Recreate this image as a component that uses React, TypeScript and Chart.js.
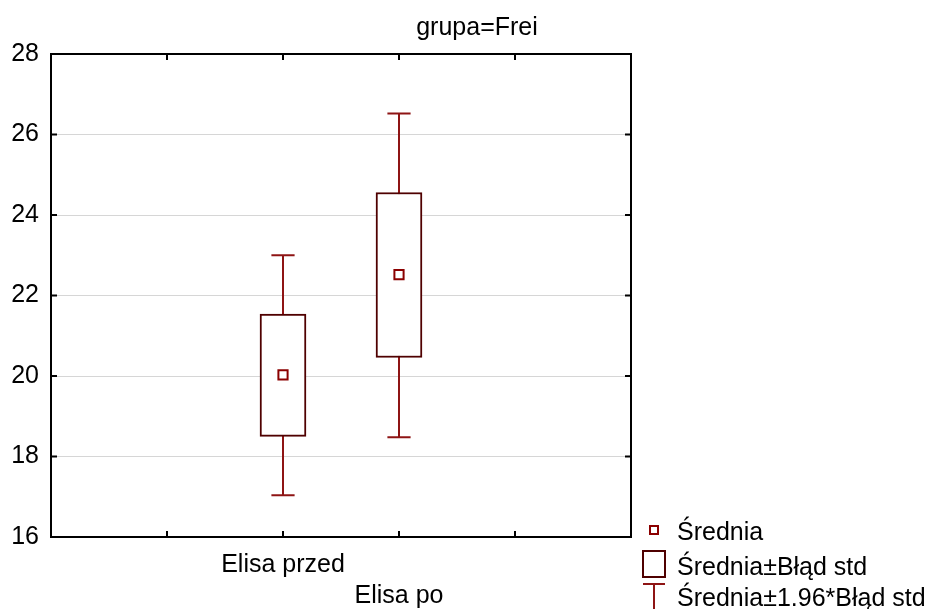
import React, { useEffect, useRef } from "react";
import { Chart, registerables } from "chart.js";

Chart.register(...registerables);

const categories = ["Elisa przed", "Elisa po"];
const xPositions = [2, 3];
const labelRows = [0, 1];
const means = [20.03, 22.52];
const seLow = [18.5, 20.46];
const seHigh = [21.54, 24.56];
const ciLow = [17.04, 18.48];
const ciHigh = [23.0, 26.52];
const yTicks = [16, 18, 20, 22, 24, 26, 28];
const xTickMarks = [1, 2, 3, 4];
const titleText = "grupa=Frei";
const legendLabels = ["Średnia", "Średnia±Błąd std", "Średnia±1.96*Błąd std"];

const FONT = "'Liberation Sans', Arial, sans-serif";
const FS = 25;
const BOX_COLOR = "#4f0000";
const WHISKER_COLOR = "#8e1414";
const MEAN_COLOR = "#8b0000";

export default function App() {
  const ref = useRef<HTMLCanvasElement | null>(null);

  useEffect(() => {
    if (!ref.current) return;

    const whiskerPlugin = {
      id: "whiskers",
      beforeDatasetsDraw(chart: any) {
        const ctx = chart.ctx;
        const xs = chart.scales.x;
        const ys = chart.scales.y;
        const capHalf = xs.getPixelForValue(0.1) - xs.getPixelForValue(0);
        ctx.save();
        ctx.strokeStyle = WHISKER_COLOR;
        ctx.lineWidth = 2;
        xPositions.forEach((xv, i) => {
          const px = Math.round(xs.getPixelForValue(xv));
          const yl = ys.getPixelForValue(ciLow[i]);
          const yh = ys.getPixelForValue(ciHigh[i]);
          ctx.beginPath();
          ctx.moveTo(px, yl);
          ctx.lineTo(px, yh);
          ctx.moveTo(px - capHalf, yl);
          ctx.lineTo(px + capHalf, yl);
          ctx.moveTo(px - capHalf, yh);
          ctx.lineTo(px + capHalf, yh);
          ctx.stroke();
        });
        ctx.restore();
      },
    };

    const framePlugin = {
      id: "frame",
      afterDraw(chart: any) {
        const ctx = chart.ctx;
        const a = chart.chartArea;
        const xs = chart.scales.x;
        const ys = chart.scales.y;
        ctx.save();
        ctx.strokeStyle = "#000";
        ctx.lineWidth = 2;
        ctx.strokeRect(a.left, a.top, a.right - a.left, a.bottom - a.top);
        ctx.beginPath();
        yTicks.forEach((v) => {
          const py = ys.getPixelForValue(v);
          ctx.moveTo(a.left, py);
          ctx.lineTo(a.left + 6, py);
          ctx.moveTo(a.right, py);
          ctx.lineTo(a.right - 6, py);
        });
        xTickMarks.forEach((v) => {
          const px = xs.getPixelForValue(v);
          ctx.moveTo(px, a.bottom);
          ctx.lineTo(px, a.bottom - 6);
          ctx.moveTo(px, a.top);
          ctx.lineTo(px, a.top + 6);
        });
        ctx.stroke();

        // title
        ctx.fillStyle = "#000";
        ctx.font = `${FS}px ${FONT}`;
        ctx.textAlign = "center";
        ctx.textBaseline = "alphabetic";
        ctx.fillText(titleText, 477, 35);

        // legend
        const lx = 654;
        const tx = 677;
        ctx.textAlign = "left";
        ctx.strokeStyle = MEAN_COLOR;
        ctx.lineWidth = 2;
        ctx.strokeRect(lx - 4, 526, 8, 8);
        ctx.fillText(legendLabels[0], tx, 540);
        ctx.strokeStyle = BOX_COLOR;
        ctx.strokeRect(lx - 11, 551, 22, 26);
        ctx.fillText(legendLabels[1], tx, 575);
        ctx.strokeStyle = WHISKER_COLOR;
        ctx.beginPath();
        ctx.moveTo(lx - 11, 584);
        ctx.lineTo(lx + 11, 584);
        ctx.moveTo(lx, 584);
        ctx.lineTo(lx, 612);
        ctx.stroke();
        ctx.fillText(legendLabels[2], tx, 606);
        ctx.restore();
      },
    };

    const chart = new Chart(ref.current, {
      type: "bar",
      data: {
        datasets: [
          {
            type: "scatter",
            label: "Średnia",
            data: xPositions.map((x, i) => ({ x, y: means[i] })),
            pointStyle: "rect",
            pointRadius: 6.5,
            pointBorderWidth: 2,
            pointBorderColor: MEAN_COLOR,
            pointBackgroundColor: "#ffffff",
            order: 0,
          } as any,
          {
            type: "bar",
            label: "Średnia±Błąd std",
            data: xPositions.map((x, i) => ({ x, y: [seLow[i], seHigh[i]] })) as any,
            backgroundColor: "#ffffff",
            borderColor: BOX_COLOR,
            borderWidth: 2,
            borderSkipped: false,
            barThickness: 46,
            grouped: false,
            order: 1,
          } as any,
        ],
      },
      options: {
        animation: false,
        responsive: false,
        devicePixelRatio: 1,
        layout: { padding: { top: 54, right: 306, left: 0, bottom: 0 } },
        plugins: {
          legend: { display: false },
          tooltip: { enabled: false },
          title: { display: false },
        },
        scales: {
          x: {
            type: "linear",
            min: 0,
            max: 5,
            offset: false,
            afterFit(scale: any) {
              scale.height = 72;
            },
            afterBuildTicks(scale: any) {
              scale.ticks = xPositions.map((v) => ({ value: v }));
            },
            ticks: {
              autoSkip: false,
              maxRotation: 0,
              padding: 13,
              color: "#000",
              font: { family: FONT, size: FS, lineHeight: 31 / FS },
              callback(value: any) {
                const i = xPositions.indexOf(Number(value));
                if (i < 0) return "";
                const lines: string[] = [];
                for (let r = 0; r < labelRows[i]; r++) lines.push("");
                lines.push(categories[i]);
                return lines.length === 1 ? lines[0] : lines;
              },
            },
            grid: { display: false, drawTicks: false, offset: false },
            border: { display: false },
          },
          y: {
            type: "linear",
            min: 16,
            max: 28,
            afterFit(scale: any) {
              scale.width = 51;
            },
            ticks: {
              stepSize: 2,
              padding: 12,
              color: "#000",
              font: { family: FONT, size: FS },
            },
            grid: { color: "#d6d6d6", lineWidth: 1, drawTicks: false },
            border: { display: false },
          },
        },
      } as any,
      plugins: [whiskerPlugin, framePlugin],
    });

    return () => chart.destroy();
  }, []);

  return (
    <div style={{ position: "absolute", left: 0, top: 0, width: 937, height: 609, background: "#fff" }}>
      <canvas ref={ref} width={937} height={609} />
    </div>
  );
}
